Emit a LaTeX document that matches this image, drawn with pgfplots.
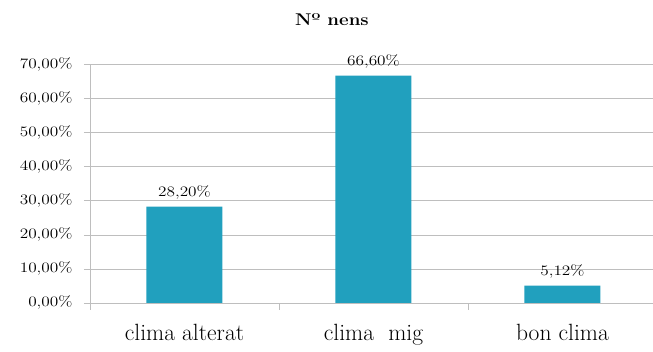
\documentclass[border=0pt]{standalone}
\usepackage{pgfplots}
\pgfplotsset{compat=1.18}
\definecolor{barcol}{RGB}{33,160,190}
\definecolor{gridcol}{RGB}{190,190,190}
% text in this chart is set slightly wider than its natural shape
\newcommand\wide[2][1.2]{\scalebox{#1}[1]{#2}}
\newcommand\pct[1]{\wide{$\pgfmathprintnumber[fixed,fixed zerofill,precision=2,use comma]{#1}\%$}}
\begin{document}
\begin{tikzpicture}
\begin{axis}[
  name=ax,
  scale only axis,
  width=563pt, height=239pt,
  xmin=-0.5, xmax=2.479,
  ymin=0, ymax=70,
  ytick={0,10,...,70},
  yticklabel={\pct{\tick}},
  yticklabel style={font=\fontsize{15.5}{18}\selectfont, xshift=-8pt},
  ymajorgrids,
  grid style={gridcol},
  axis x line*=bottom,
  axis y line*=left,
  axis line style={gridcol},
  tick align=outside,
  major tick length=6pt,
  ytick style={gridcol},
  xtick={0,1,2},
  xticklabels={clima alterat, clima\ \ mig, bon clima},
  xticklabel style={font=\fontsize{23.5}{28}\selectfont, anchor=base, yshift=-32pt},
  major x tick style={draw=none},
  extra x ticks={-0.5,0.5,1.5},
  extra x tick labels={},
  extra x tick style={major x tick style={draw=gridcol}, major tick length=7pt},
]
\addplot[ybar, bar width=76pt, fill=barcol, draw=none,
  nodes near coords={\pct{\pgfplotspointmeta}},
  every node near coord/.append style={font=\fontsize{15.5}{18}\selectfont, black, anchor=base, yshift=10pt}]
  coordinates {(0,28.2) (1,66.6) (2,5.12)};
\end{axis}
\node[font=\fontsize{17}{20}\selectfont\bfseries] at ([shift={(-39.5pt,44pt)}]ax.north) {\wide[1.1]{Nº nens}};
\pgfresetboundingbox
\path ([shift={(-90pt,-49pt)}]ax.south west) rectangle ([shift={(0pt,64pt)}]ax.north east);
\end{tikzpicture}
\end{document}
